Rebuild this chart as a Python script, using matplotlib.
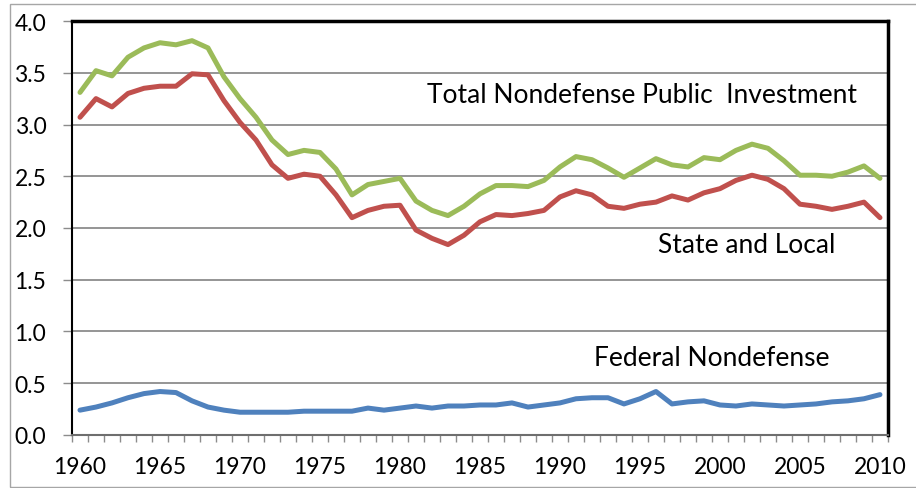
import matplotlib.pyplot as plt
from matplotlib.patches import Rectangle
import numpy as np

years = list(range(1960, 2011))

total_nondefense = [
    3.31, 3.52, 3.47, 3.65, 3.74, 3.79, 3.77, 3.81, 3.74, 3.46,
    3.25, 3.07, 2.85, 2.71, 2.75, 2.73, 2.57, 2.32, 2.42, 2.45,
    2.48, 2.26, 2.17, 2.12, 2.21, 2.33, 2.41, 2.41, 2.40, 2.46,
    2.59, 2.69, 2.66, 2.58, 2.49, 2.58, 2.67, 2.61, 2.59, 2.68,
    2.66, 2.75, 2.81, 2.77, 2.65, 2.51, 2.51, 2.50, 2.54, 2.60,
    2.48,
]

state_local = [
    3.07, 3.25, 3.17, 3.30, 3.35, 3.37, 3.37, 3.49, 3.48, 3.23,
    3.02, 2.85, 2.61, 2.48, 2.52, 2.50, 2.32, 2.10, 2.17, 2.21,
    2.22, 1.98, 1.90, 1.84, 1.93, 2.06, 2.13, 2.12, 2.14, 2.17,
    2.30, 2.36, 2.32, 2.21, 2.19, 2.23, 2.25, 2.31, 2.27, 2.34,
    2.38, 2.46, 2.51, 2.47, 2.38, 2.23, 2.21, 2.18, 2.21, 2.25,
    2.10,
]

federal_nondefense = [
    0.24, 0.27, 0.31, 0.36, 0.40, 0.42, 0.41, 0.33, 0.27, 0.24,
    0.22, 0.22, 0.22, 0.22, 0.23, 0.23, 0.23, 0.23, 0.26, 0.24,
    0.26, 0.28, 0.26, 0.28, 0.28, 0.29, 0.29, 0.31, 0.27, 0.29,
    0.31, 0.35, 0.36, 0.36, 0.30, 0.35, 0.42, 0.30, 0.32, 0.33,
    0.29, 0.28, 0.30, 0.29, 0.28, 0.29, 0.30, 0.32, 0.33, 0.35,
    0.39,
]

year_labels = list(range(1960, 2011, 5))
y_ticks = [0.0, 0.5, 1.0, 1.5, 2.0, 2.5, 3.0, 3.5, 4.0]

plt.rcParams["font.family"] = ["Lato", "DejaVu Sans"]

fig = plt.figure(figsize=(9.16, 4.89), dpi=100)
ax = fig.add_axes([0.0786, 0.1084, 0.8908, 0.8466])

# series
line_kw = dict(linewidth=3.6, solid_joinstyle="round", solid_capstyle="round", zorder=3)
ax.plot(years, total_nondefense, color="#9BBB59", **line_kw)
ax.plot(years, state_local, color="#C0504D", **line_kw)
ax.plot(years, federal_nondefense, color="#4F81BD", **line_kw)

# axes limits and grid
ax.set_xlim(years[0] - 0.5, years[-1] + 0.5)
ax.set_ylim(0, 4.0)
ax.set_yticks(y_ticks)
ax.set_yticklabels([f"{v:.1f}" for v in y_ticks], fontsize=16.5)
ax.yaxis.grid(True, color="#8c8c8c", linewidth=1.3)
ax.set_axisbelow(True)

ax.set_xticks(year_labels)
ax.set_xticklabels([str(y) for y in year_labels], fontsize=16.5)
ax.set_xticks(np.arange(years[0] - 0.5, years[-1] + 1.0, 1.0), minor=True)
ax.tick_params(axis="x", which="major", length=0, pad=15)
ax.tick_params(axis="x", which="minor", length=5, width=1, color="#8c8c8c")
ax.tick_params(axis="y", length=6.5, width=1, color="#8c8c8c", pad=12)

ax.spines["left"].set_color("black")
ax.spines["left"].set_linewidth(1.5)
ax.spines["bottom"].set_color("#6e6e6e")
ax.spines["bottom"].set_linewidth(1.5)
for side in ["top", "right"]:
    ax.spines[side].set_color("black")
    ax.spines[side].set_linewidth(2.5)

# series labels
label_kw = dict(fontsize=19, va="center", ha="left")
ax.text(1981.7, 3.29, "Total Nondefense Public  Investment", **label_kw)
ax.text(1996.1, 1.84, "State and Local", **label_kw)
ax.text(1992.1, 0.75, "Federal Nondefense", **label_kw)

# light outer frame (right edge falls outside the image)
fig.patches.append(Rectangle((10 / 916, 1 / 489), 1.0, 483 / 489, transform=fig.transFigure,
                             fill=False, edgecolor="#a6a6a6", linewidth=1))

fig.savefig("out.png", dpi=100)
